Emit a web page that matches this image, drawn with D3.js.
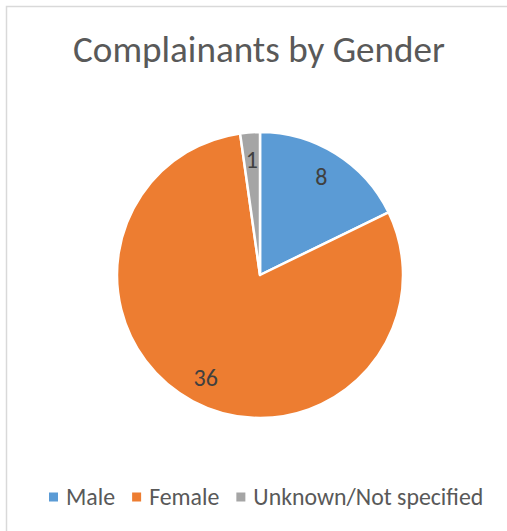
<!DOCTYPE html>
<html>
<head>
<meta charset="utf-8">
<script src="https://cdn.jsdelivr.net/npm/d3@7"></script>
<style>
  html, body { margin: 0; padding: 0; background: #fff; }
  svg { display: block; }
</style>
</head>
<body>
<div id="chart"></div>
<script>
// chart data
var title = "Complainants by Gender";
var categories = ["Male", "Female", "Unknown/Not specified"];
var counts = [8, 36, 1];
var colors = ["#5B9BD5", "#ED7D31", "#A5A5A5"];

var width = 507, height = 531;
var font = "Carlito, Calibri, 'Open Sans', sans-serif";

var svg = d3.select("#chart").append("svg")
	.attr("width", width)
	.attr("height", height);

// chart area border (only top and left edges are visible in the crop)
svg.append("rect")
	.attr("x", 6.5)
	.attr("y", 6.5)
	.attr("width", width + 10)
	.attr("height", height + 10)
	.attr("fill", "#fff")
	.attr("stroke", "#d9d9d9")
	.attr("stroke-width", 1.5);

// title, sized to fill the same width as the original
var titleText = svg.append("text")
	.attr("x", 259)
	.attr("y", 62)
	.attr("text-anchor", "middle")
	.attr("fill", "#595959")
	.style("font-family", font)
	.style("font-size", "36px")
	.text(title);
var tw = titleText.node().getComputedTextLength();
titleText.style("font-size", (36 * 372 / tw) + "px");

// pie
var cx = 260, cy = 275, radius = 143;

var data = categories.map(function(c, i) {
	return { name: c, value: counts[i], color: colors[i] };
});

var pie = d3.pie()
	.sort(null)
	.value(function(d) { return d.value; });

var arc = d3.arc()
	.innerRadius(0)
	.outerRadius(radius);

var labelArc = d3.arc()
	.innerRadius(radius * 0.81)
	.outerRadius(radius * 0.81);

var g = svg.append("g")
	.attr("transform", "translate(" + cx + "," + cy + ")");

var slices = g.selectAll(".slice")
	.data(pie(data))
	.enter()
	.append("g")
		.attr("class", "slice");

slices.append("path")
	.attr("d", arc)
	.attr("fill", function(d) { return d.data.color; })
	.attr("stroke", "#fff")
	.attr("stroke-width", 2.5)
	.attr("stroke-linejoin", "round");

slices.append("text")
	.attr("transform", function(d) {
		return "translate(" + labelArc.centroid(d) + ")";
	})
	.attr("text-anchor", "middle")
	.attr("dy", "0.35em")
	.attr("fill", "#404040")
	.style("font-family", font)
	.style("font-size", "24px")
	.text(function(d) { return d.data.value; });

// legend
var legend = svg.append("g");
var items = legend.selectAll(".item")
	.data(data)
	.enter()
	.append("g")
		.attr("class", "item");

items.append("rect")
	.attr("width", 9)
	.attr("height", 9)
	.attr("y", -4.5)
	.attr("fill", function(d) { return d.color; });

var labels = items.append("text")
	.attr("x", 17)
	.attr("dy", "0.35em")
	.attr("fill", "#595959")
	.style("font-family", font)
	.style("font-size", "20px")
	.text(function(d) { return d.name; });

// scale legend text so the last label spans the same width as the original
var lastW = labels.nodes()[2].getComputedTextLength();
labels.style("font-size", (20 * 230 / lastW) + "px");

var xpos = 0;
items.each(function(d) {
	var w = d3.select(this).select("text").node().getComputedTextLength();
	d3.select(this).attr("transform", "translate(" + xpos + ",0)");
	xpos += 17 + w + 17;
});
legend.attr("transform", "translate(49,497)");
</script>
</body>
</html>
